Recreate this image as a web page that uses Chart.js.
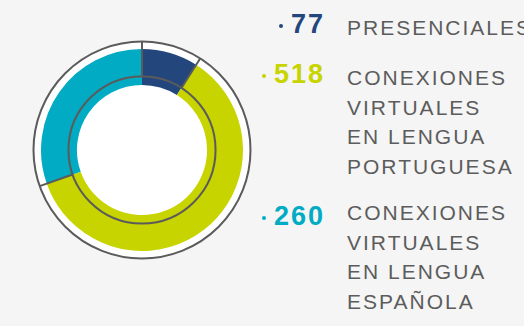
<!DOCTYPE html>
<html lang="es">
<head>
<meta charset="utf-8">
<script src="https://cdn.jsdelivr.net/npm/chart.js@4/dist/chart.umd.min.js"></script>
<style>
  html, body { margin: 0; padding: 0; }
  body { width: 524px; height: 326px; background: #f5f5f5; position: relative; overflow: hidden;
         font-family: "Liberation Sans", Arial, sans-serif; }
  #wrap { position: absolute; left: 30px; top: 38px; width: 224px; height: 224px; }
  .num { position: absolute; right: 199px; font-weight: bold; font-size: 27px; line-height: 27px;
         white-space: nowrap; text-align: right; }
  .num .v { letter-spacing: 2px; }
  .num .dot { display: inline-block; width: 4px; height: 4px; border-radius: 50%;
              vertical-align: 5.5px; margin-right: 8px; }
  .lab { position: absolute; left: 347px; font-size: 21px; line-height: 29.5px; letter-spacing: 2px;
         color: #5c5c5c; white-space: nowrap; }
</style>
</head>
<body>
<div id="wrap"><canvas id="c"></canvas></div>
<div id="legend"></div>
<script>
// Participación por modalidad
const categories = [
  ["PRESENCIALES"],
  ["CONEXIONES", "VIRTUALES", "EN LENGUA", "PORTUGUESA"],
  ["CONEXIONES", "VIRTUALES", "EN LENGUA", "ESPAÑOLA"]
];
const values = [77, 518, 260];
const colors = ["#23467d", "#c8d400", "#00abc3"];

// legend layout (top offsets of each block)
const numTops = [11, 61, 203];
const labTops = [13, 63, 198];

const legend = document.getElementById("legend");
values.forEach((v, i) => {
  const n = document.createElement("div");
  n.className = "num";
  n.style.top = numTops[i] + "px";
  n.style.color = colors[i];
  n.innerHTML = '<span class="dot" style="background:' + colors[i] + '"></span><span class="v">' + v + '</span>';
  legend.appendChild(n);
  const l = document.createElement("div");
  l.className = "lab";
  l.style.top = labTops[i] + "px";
  l.innerHTML = categories[i].join("<br>");
  legend.appendChild(l);
});

// Frame rings and separators around the doughnut
const ringFrame = {
  id: "ringFrame",
  beforeDatasetsDraw(chart) {
    const arcs = chart.getDatasetMeta(0).data;
    if (!arcs.length) return;
    const a = arcs[0];
    const ctx = chart.ctx;
    ctx.save();
    ctx.fillStyle = "#ffffff";
    ctx.beginPath();
    ctx.arc(a.x, a.y, a.outerRadius + 7.5, 0, Math.PI * 2);
    ctx.fill();
    ctx.restore();
  },
  afterDatasetsDraw(chart) {
    const arcs = chart.getDatasetMeta(0).data;
    if (!arcs.length) return;
    const a0 = arcs[0];
    const cx = a0.x, cy = a0.y;
    const rOut = a0.outerRadius + 7.5;
    const rIn = a0.innerRadius + 8.5;
    const ctx = chart.ctx;
    ctx.save();
    ctx.strokeStyle = "#5b5b5b";
    ctx.lineWidth = 2;
    ctx.beginPath();
    ctx.arc(cx, cy, rOut, 0, Math.PI * 2);
    ctx.stroke();
    ctx.beginPath();
    ctx.arc(cx, cy, rIn, 0, Math.PI * 2);
    ctx.stroke();
    arcs.forEach(a => {
      const ang = a.startAngle;
      ctx.beginPath();
      ctx.moveTo(cx + Math.cos(ang) * rIn, cy + Math.sin(ang) * rIn);
      ctx.lineTo(cx + Math.cos(ang) * rOut, cy + Math.sin(ang) * rOut);
      ctx.stroke();
    });
    ctx.restore();
  }
};

new Chart(document.getElementById("c"), {
  type: "doughnut",
  data: {
    labels: categories.map(c => c.join(" ")),
    datasets: [{
      data: values,
      backgroundColor: colors,
      borderWidth: 0,
      hoverOffset: 0
    }]
  },
  options: {
    responsive: true,
    maintainAspectRatio: false,
    animation: false,
    cutout: "64.4%",
    layout: { padding: 11 },
    plugins: { legend: { display: false }, tooltip: { enabled: false } },
    events: []
  },
  plugins: [ringFrame]
});
</script>
</body>
</html>
